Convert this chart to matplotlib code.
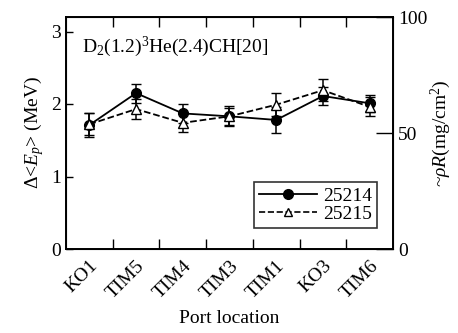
import matplotlib
matplotlib.use('Agg')
import matplotlib.pyplot as plt
from matplotlib.lines import Line2D

plt.rcParams['font.family'] = ['Liberation Serif', 'DejaVu Serif']
plt.rcParams['mathtext.fontset'] = 'custom'
plt.rcParams['mathtext.rm'] = 'Liberation Serif'
plt.rcParams['mathtext.it'] = 'Liberation Serif:italic'
plt.rcParams['font.size'] = 14

# Data
ports = ['KO1', 'TIM5', 'TIM4', 'TIM3', 'TIM1', 'KO3', 'TIM6']
shot_a = [1.71, 2.15, 1.87, 1.83, 1.78, 2.11, 2.01]
err_a = [0.16, 0.13, 0.13, 0.12, 0.18, 0.12, 0.12]
shot_b = [1.72, 1.93, 1.74, 1.83, 1.99, 2.19, 1.96]
err_b = [0.15, 0.14, 0.13, 0.14, 0.16, 0.15, 0.13]

x = list(range(len(ports)))

fig = plt.figure(figsize=(4.58, 3.33), dpi=100)
ax = fig.add_axes([66/458, 1 - 249/333, 327/458, 232/333])

ax.errorbar(x, shot_a, yerr=err_a, fmt='-o', color='black', ms=7,
            mfc='black', lw=1.3, capsize=3.5, elinewidth=1.1)
ax.errorbar(x, shot_b, yerr=err_b, fmt='--^', color='black', ms=7,
            mfc='white', lw=1.3, capsize=3.5, elinewidth=1.1)

ax.set_xlim(-0.5, 6.5)
ax.set_ylim(0, 3.2)
ax.set_yticks([0, 1, 2, 3])
ax.set_xticks(x)
ax.set_xticklabels(ports, rotation=45, ha='right', rotation_mode='anchor')
ax.set_xticks([i + 0.5 for i in range(6)], minor=True)
ax.tick_params(axis='x', which='major', length=0, pad=6)
ax.tick_params(axis='x', which='minor', direction='in', length=7,
               top=True, bottom=True, width=1)
ax.tick_params(axis='y', direction='in', length=5, width=1, right=False)
for s in ax.spines.values():
    s.set_linewidth(1.4)

ax.set_ylabel(r'$\Delta$<$E_p$> (MeV)', labelpad=4)
ax.set_xlabel('Port location', labelpad=6)
ax.text(0.05, 0.85, r'D$_2$(1.2)$^3$He(2.4)CH[20]', transform=ax.transAxes)

ax2 = ax.twinx()
ax2.set_ylim(0, 100)
ax2.set_yticks([0, 50, 100])
ax2.tick_params(axis='y', direction='in', length=12, width=1)
ax2.set_ylabel(r'~$\rho R$(mg/cm$^2$)', labelpad=1)

handles = [Line2D([], [], color='black', ls='-', lw=1.3, marker='o', ms=7,
                  mfc='black'),
           Line2D([], [], color='black', ls='--', lw=1.2, marker='^', ms=6,
                  mfc='white')]
leg = ax.legend(handles, ['25214', '25215'], loc='lower right',
                bbox_to_anchor=(0.95, 0.09), borderaxespad=0, frameon=True,
                fancybox=False, edgecolor='black', handlelength=3.0,
                borderpad=0.25, labelspacing=0.05, handletextpad=0.3)
leg.get_frame().set_linewidth(1.2)

fig.savefig('out.png', dpi=100)
